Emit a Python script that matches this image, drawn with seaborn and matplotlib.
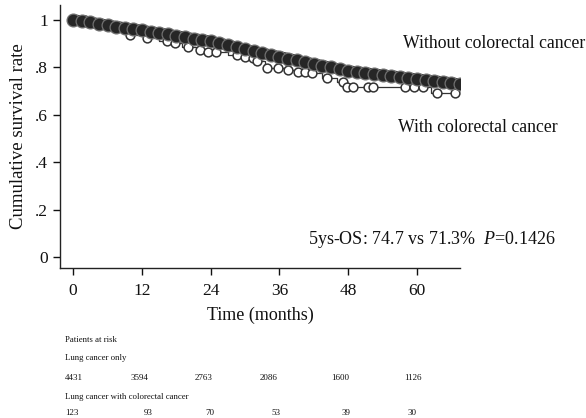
import matplotlib
matplotlib.use("Agg")
import matplotlib.pyplot as plt
import seaborn as sns
import pandas as pd

# ---- data ----
without_t = [0, 1.5, 3, 4.5, 6, 7.5, 9, 10.5, 12, 13.5, 15, 16.5, 18, 19.5, 21, 22.5,
             24, 25.5, 27, 28.5, 30, 31.5, 33, 34.5, 36, 37.5, 39, 40.5, 42, 43.5, 45,
             46.5, 48, 49.5, 51, 52.5, 54, 55.5, 57, 58.5, 60, 61.5, 63, 64.5, 66, 67.5]
without_s = [1.000, 0.996, 0.990, 0.984, 0.978, 0.972, 0.967, 0.961, 0.956, 0.950, 0.945,
             0.939, 0.933, 0.927, 0.921, 0.916, 0.910, 0.902, 0.894, 0.885, 0.876, 0.867,
             0.860, 0.852, 0.845, 0.837, 0.830, 0.822, 0.815, 0.807, 0.800, 0.792, 0.785,
             0.781, 0.777, 0.772, 0.768, 0.764, 0.760, 0.755, 0.751, 0.747, 0.743, 0.739,
             0.735, 0.729]

with_step_t = [0, 3, 6, 9, 10, 12.5, 15, 17, 19, 21.5, 23, 27, 29.5, 31, 32, 33.5, 37, 39,
               41.5, 43.5, 46, 47.5, 62.5, 67]
with_step_s = [1.0, 0.985, 0.97, 0.95, 0.937, 0.924, 0.91, 0.903, 0.886, 0.873, 0.865,
               0.852, 0.844, 0.838, 0.825, 0.797, 0.79, 0.78, 0.776, 0.755, 0.738, 0.717,
               0.69, 0.69]
with_cens_t = [1, 2, 4, 7, 10, 12.9, 16.4, 17.8, 20, 22.2, 23.6, 25, 28.6, 30, 31.4, 32,
               33.9, 35.8, 37.5, 39.3, 40.5, 41.7, 44.3, 47.1, 47.8, 48.9, 51.5, 52.4,
               57.9, 59.5, 61, 63.5, 66.7]
with_cens_s = [1.0, 1.0, 0.985, 0.97, 0.937, 0.924, 0.91, 0.903, 0.886, 0.873, 0.865, 0.865,
               0.852, 0.844, 0.838, 0.825, 0.797, 0.797, 0.79, 0.78, 0.78, 0.776, 0.755,
               0.738, 0.717, 0.717, 0.717, 0.717, 0.717, 0.717, 0.717, 0.69, 0.69]

x_ticks = [0, 12, 24, 36, 48, 60]
y_ticks = [0, 0.2, 0.4, 0.6, 0.8, 1.0]
y_ticklabels = ["0", ".2", ".4", ".6", ".8", "1"]
risk_only = ["4431", "3594", "2763", "2086", "1600", "1126"]
risk_with = ["123", "93", "70", "53", "39", "30"]

label_without = "Without colorectal cancer"
label_with = "With colorectal cancer"
stat_text = r"5ys-OS: 74.7 vs 71.3%  $P$=0.1426"

# ---- style ----
sns.set_style("ticks")
plt.rcParams["font.family"] = ["Liberation Serif", "DejaVu Serif"]
plt.rcParams["mathtext.fontset"] = "custom"
plt.rcParams["mathtext.it"] = "Liberation Serif:italic"
plt.rcParams["mathtext.rm"] = "Liberation Serif"
plt.rcParams["text.color"] = "#111111"
plt.rcParams["axes.labelcolor"] = "#111111"

fig = plt.figure(figsize=(5.86, 4.18), dpi=100)
ax = fig.add_axes([60 / 586, 1 - 268 / 418, 400 / 586, 263 / 418])

df_wo = pd.DataFrame({"t": without_t, "s": without_s})
df_ws = pd.DataFrame({"t": with_step_t, "s": with_step_s})
df_wc = pd.DataFrame({"t": with_cens_t, "s": with_cens_s})

# with colorectal cancer (open circles + thin step line)
sns.lineplot(data=df_ws, x="t", y="s", ax=ax, color="#333333", lw=0.9,
             drawstyle="steps-post", estimator=None, sort=False, zorder=2)
sns.scatterplot(data=df_wc, x="t", y="s", ax=ax, marker="o", s=40,
                facecolor="white", edgecolor="#333333", linewidth=1.1, zorder=3)

# without colorectal cancer (dense dark band)
sns.lineplot(data=df_wo, x="t", y="s", ax=ax, color="#1a1a1a", lw=8,
             estimator=None, zorder=4)
sns.scatterplot(data=df_wo, x="t", y="s", ax=ax, marker="o", s=85,
                color="#262626", edgecolor="#707070", linewidth=0.9, zorder=5)

ax.set_xlim(-2.3, 67.5)
ax.set_ylim(-0.046, 1.063)
ax.set_xticks(x_ticks)
ax.set_yticks(y_ticks)
ax.set_yticklabels(y_ticklabels)
ax.tick_params(direction="out", length=5, width=1, labelsize=12.5, colors="#111111")
ax.tick_params(axis="x", pad=6)
for sp in ["top", "right"]:
    ax.spines[sp].set_visible(False)
for sp in ["left", "bottom"]:
    ax.spines[sp].set_color("#222222")
    ax.spines[sp].set_linewidth(1.0)
ax.set_xlabel("Time (months)", fontsize=13, labelpad=5)
ax.set_ylabel("Cumulative survival rate", fontsize=13.5, labelpad=6)

fig.text(403 / 586, 1 - 44 / 418, label_without, fontsize=12.8, va="center", ha="left")
fig.text(398 / 586, 1 - 128 / 418, label_with, fontsize=12.8, va="center", ha="left")
fig.text(308 / 586, 1 - 240 / 418, stat_text, fontsize=13, va="center", ha="left")

# risk table
fig.text(65 / 586, 1 - 340 / 418, "Patients at risk", fontsize=6.3, va="center")
fig.text(65 / 586, 1 - 358 / 418, "Lung cancer only", fontsize=6.3, va="center")
fig.text(65 / 586, 1 - 397 / 418, "Lung cancer with colorectal cancer", fontsize=6.3, va="center")
row1_x = [73.5, 139.5, 203.5, 269, 340, 413]
row2_x = [72, 148, 210, 276, 346, 412]
for xp, lab in zip(row1_x, risk_only):
    fig.text(xp / 586, 1 - 378 / 418, lab, fontsize=6.5, va="center", ha="center")
for xp, lab in zip(row2_x, risk_with):
    fig.text(xp / 586, 1 - 413 / 418, lab, fontsize=6.5, va="center", ha="center")

fig.savefig("out.png", dpi=100)
